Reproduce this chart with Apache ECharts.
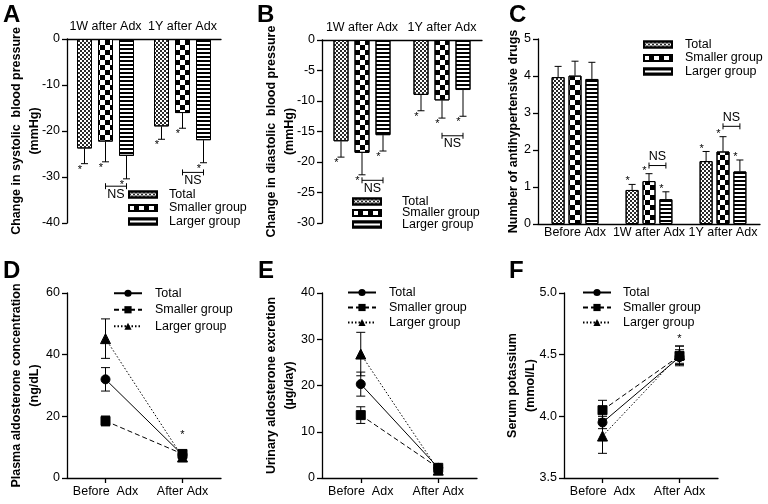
<!DOCTYPE html>
<html><head><meta charset="utf-8">
<script src="https://cdn.jsdelivr.net/npm/echarts/dist/echarts.min.js"></script>
<style>
html,body{margin:0;padding:0;background:#fff;width:768px;height:504px;overflow:hidden;}
.p{position:absolute;left:0;top:0;width:768px;height:504px;}
</style></head><body>
<div id="pA" class="p"></div><div id="pB" class="p"></div><div id="pC" class="p"></div>
<div id="pD" class="p"></div><div id="pE" class="p"></div><div id="pF" class="p"></div>
<script>
// ---------- data ----------
const groupNames = ['Total', 'Smaller group', 'Larger group'];
const catsAB = ['1W after Adx', '1Y after Adx'];
const catsC = ['Before Adx', '1W after Adx', '1Y after Adx'];
const catsDEF = ['Before  Adx', 'After Adx'];

// A: change in systolic BP (mmHg)
const sbpTotal = [-23.8, -19.0];     const sbpTotalErr = [3.3, 2.8];
const sbpSmaller = [-22.3, -16.1];   const sbpSmallerErr = [4.4, 3.3];
const sbpLarger = [-25.4, -22.0];    const sbpLargerErr = [5.0, 4.9];
const sbpStars = [1, 1];
const sbpNS = [[0, -32], [1, -29]];

// B: change in diastolic BP (mmHg)
const dbpTotal = [-16.6, -9.0];      const dbpTotalErr = [2.6, 2.6];
const dbpSmaller = [-18.5, -9.9];    const dbpSmallerErr = [3.6, 2.9];
const dbpLarger = [-15.6, -8.2];     const dbpLargerErr = [2.6, 4.3];
const dbpStars = [1, 1];
const dbpNS = [[0, -23], [1, -15.7]];

// C: number of antihypertensive drugs
const drugTotal = [3.97, 0.92, 1.70];    const drugTotalErr = [0.29, 0.15, 0.26];
const drugSmaller = [4.01, 1.16, 1.96];  const drugSmallerErr = [0.39, 0.20, 0.40];
const drugLarger = [3.92, 0.67, 1.42];   const drugLargerErr = [0.45, 0.20, 0.31];
const drugStars = [0, 1, 1];
const drugNS = [[1, 1.58], [2, 2.64]];

// D: plasma aldosterone concentration (ng/dL)
const pacTotal = [32.0, 7.5];    const pacTotalErr = [3.8, 1.2];
const pacSmaller = [18.5, 7.8];  const pacSmallerErr = [1.6, 1.2];
const pacLarger = [45.2, 6.8];   const pacLargerErr = [6.4, 1.2];
const pacStar = [[1, 14]];

// E: urinary aldosterone excretion (µg/day)
const uaeTotal = [20.3, 2.2];    const uaeTotalErr = [2.6, 0.5];
const uaeSmaller = [13.6, 2.2];  const uaeSmallerErr = [1.8, 0.5];
const uaeLarger = [26.8, 1.7];   const uaeLargerErr = [4.7, 0.5];

// F: serum potassium (mmol/L)
const kTotal = [3.95, 4.48];     const kTotalErr = [0.05, 0.06];
const kSmaller = [4.05, 4.49];   const kSmallerErr = [0.08, 0.08];
const kLarger = [3.84, 4.50];    const kLargerErr = [0.14, 0.07];
const kStar = [[1, 4.63]];

// ---------- styling helpers ----------
const FONT = 'Liberation Sans, Arial, Helvetica, sans-serif';
const BLACK = '#000';
const decals = [
  {symbol: 'rect', symbolSize: 1, dashArrayX: [[2, 2], [0, 2, 2, 0]], dashArrayY: [2, 0], color: '#2a2a2a'},
  {symbol: 'rect', symbolSize: 1, dashArrayX: [[4.5, 4.5], [0, 4.5, 4.5, 0]], dashArrayY: [4.5, 0], color: '#000'},
  {symbol: 'rect', symbolSize: 1, dashArrayX: [1, 0], dashArrayY: [2, 1.4], color: '#000'}
];

function title(letter, left, top) {
  return {text: letter, left: left, top: top, padding: 0,
    textStyle: {fontSize: 24, fontWeight: 'bold', fontFamily: FONT, color: BLACK}};
}

function yAxisCfg(min, max, interval, name, nameGap, fmt) {
  return {
    type: 'value', min: min, max: max, interval: interval,
    name: name, nameLocation: 'middle', nameGap: nameGap, nameRotate: 90, nameMoveOverlap: false,
    nameTextStyle: {fontSize: 12.5, fontWeight: 'bold', fontFamily: FONT, color: BLACK, lineHeight: 18},
    axisLine: {show: true, lineStyle: {color: BLACK, width: 1.3}},
    axisTick: {show: true, length: 5, inside: false, lineStyle: {color: BLACK, width: 1.3}},
    axisLabel: {fontSize: 12.5, fontFamily: FONT, color: BLACK, margin: 7, formatter: fmt},
    splitLine: {show: false}
  };
}

function barErrSeries(data, err, stars, idx, step, dir) {
  return {
    type: 'custom', name: '_err' + idx, silent: true, clip: false, z: 5,
    encode: {x: 0, y: 1},
    data: data.map((v, i) => [i, v, err[i], stars[i]]),
    renderItem: function (params, api) {
      const c = api.value(0), v = api.value(1), e = api.value(2), s = api.value(3);
      const p0 = api.coord([c, v]);
      const p1 = api.coord([c, v + dir * e]);
      const x = p0[0] + (idx - 1) * step;
      const ch = [
        {type: 'line', shape: {x1: x, y1: p0[1], x2: x, y2: p1[1]}, style: {stroke: BLACK, lineWidth: 1}},
        {type: 'line', shape: {x1: x - 3.5, y1: p1[1], x2: x + 3.5, y2: p1[1]}, style: {stroke: BLACK, lineWidth: 1}}
      ];
      if (s) {
        ch.push({type: 'text', style: {text: '*', x: x - 4.5, y: dir < 0 ? p1[1] + 6 : p1[1] - 3,
          align: 'center', verticalAlign: 'middle', fontSize: 11, fontFamily: FONT, fill: BLACK}});
      }
      return {type: 'group', children: ch};
    }
  };
}

function nsSeries(ns, step, above) {
  return {
    type: 'custom', name: '_ns', silent: true, clip: false, z: 5,
    encode: {x: 0, y: 1},
    data: ns,
    renderItem: function (params, api) {
      const p = api.coord([api.value(0), api.value(1)]);
      const x1 = p[0], x2 = p[0] + step, y = p[1];
      return {type: 'group', children: [
        {type: 'line', shape: {x1: x1, y1: y, x2: x2, y2: y}, style: {stroke: BLACK, lineWidth: 1}},
        {type: 'line', shape: {x1: x1, y1: y - 3, x2: x1, y2: y + 3}, style: {stroke: BLACK, lineWidth: 1}},
        {type: 'line', shape: {x1: x2, y1: y - 3, x2: x2, y2: y + 3}, style: {stroke: BLACK, lineWidth: 1}},
        {type: 'text', style: {text: 'NS', x: (x1 + x2) / 2, y: above ? y - 9 : y + 8,
          align: 'center', verticalAlign: 'middle', fontSize: 12.5, fontFamily: FONT, fill: BLACK}}
      ]};
    }
  };
}

function barPanel(el, cfg) {
  const chart = echarts.init(document.getElementById(el), null, {renderer: 'canvas', width: 768, height: 504});
  const step = cfg.barWidth * (1 + cfg.gapRatio);
  const series = [];
  cfg.values.forEach((vals, i) => {
    series.push({
      type: 'bar', name: groupNames[i], data: vals, barWidth: cfg.barWidth, barGap: (cfg.gapRatio * 100) + '%',
      silent: true, z: 2,
      itemStyle: {color: '#fff', borderColor: BLACK, borderWidth: 1, decal: decals[i]}
    });
  });
  cfg.values.forEach((vals, i) => series.push(barErrSeries(vals, cfg.errs[i], cfg.stars, i, step, cfg.dir)));
  series.push(nsSeries(cfg.ns, step, cfg.dir > 0));
  chart.setOption({
    animation: false,
    title: title(cfg.letter, cfg.letterPos[0], cfg.letterPos[1]),
    grid: Object.assign({containLabel: false, outerBoundsMode: 'none'}, cfg.grid),
    legend: Object.assign({
      orient: 'vertical', icon: 'rect', itemWidth: 28, itemHeight: 6, itemGap: cfg.legendGap, padding: 0,
      selectedMode: false, data: groupNames,
      textStyle: {fontSize: 12.5, fontFamily: FONT, color: BLACK, padding: [0, 0, 0, cfg.legendPad]}
    }, cfg.legendPos),
    xAxis: {
      type: 'category', data: cfg.cats, position: cfg.xPos,
      axisLine: {show: true, onZero: false, lineStyle: {color: BLACK, width: 1.3}},
      axisTick: {show: false},
      axisLabel: {fontSize: 12.5, fontFamily: FONT, color: BLACK, margin: cfg.xMargin, interval: 0}
    },
    yAxis: yAxisCfg(cfg.yMin, cfg.yMax, cfg.yInt, cfg.yName, cfg.nameGap, cfg.fmt),
    series: series
  });
}

function linePanel(el, cfg) {
  const chart = echarts.init(document.getElementById(el), null, {renderer: 'canvas', width: 768, height: 504});
  const symbols = ['circle', 'rect', 'triangle'];
  const types = ['solid', [5, 3], [1.5, 2]];
  const series = [];
  cfg.values.forEach((vals, i) => {
    series.push({
      type: 'line', name: groupNames[i], data: vals, symbol: symbols[i], symbolSize: i === 2 ? 10 : 9,
      silent: true, z: 3,
      itemStyle: {color: BLACK, borderColor: BLACK},
      lineStyle: {color: BLACK, width: 1, type: types[i]}
    });
  });
  cfg.values.forEach((vals, i) => {
    const err = cfg.errs[i];
    series.push({
      type: 'custom', name: '_err' + i, silent: true, clip: false, z: 4,
      encode: {x: 0, y: 1},
      data: vals.map((v, k) => [k, v, err[k]]),
      renderItem: function (params, api) {
        const c = api.value(0), v = api.value(1), e = api.value(2);
        const pt = api.coord([c, v + e]);
        const pb = api.coord([c, v - e]);
        const x = pt[0];
        return {type: 'group', children: [
          {type: 'line', shape: {x1: x, y1: pt[1], x2: x, y2: pb[1]}, style: {stroke: BLACK, lineWidth: 1}},
          {type: 'line', shape: {x1: x - 4.5, y1: pt[1], x2: x + 4.5, y2: pt[1]}, style: {stroke: BLACK, lineWidth: 1}},
          {type: 'line', shape: {x1: x - 4.5, y1: pb[1], x2: x + 4.5, y2: pb[1]}, style: {stroke: BLACK, lineWidth: 1}}
        ]};
      }
    });
  });
  if (cfg.star) {
    series.push({
      type: 'custom', name: '_star', silent: true, clip: false, z: 4,
      encode: {x: 0, y: 1}, data: cfg.star,
      renderItem: function (params, api) {
        const p = api.coord([api.value(0), api.value(1)]);
        return {type: 'text', style: {text: '*', x: p[0], y: p[1], align: 'center', verticalAlign: 'middle',
          fontSize: 11, fontFamily: FONT, fill: BLACK}};
      }
    });
  }
  chart.setOption({
    animation: false,
    title: title(cfg.letter, cfg.letterPos[0], cfg.letterPos[1]),
    grid: Object.assign({containLabel: false, outerBoundsMode: 'none'}, cfg.grid),
    legend: Object.assign({
      orient: 'vertical', itemWidth: 28, itemHeight: 9, itemGap: 0, padding: 0,
      selectedMode: false, data: groupNames,
      textStyle: {fontSize: 12.5, fontFamily: FONT, color: BLACK, lineHeight: cfg.legendLH, padding: [0, 0, 0, cfg.legendPad]}
    }, cfg.legendPos),
    xAxis: {
      type: 'category', data: catsDEF,
      axisLine: {show: true, onZero: false, lineStyle: {color: BLACK, width: 1.3}},
      axisTick: {show: true, alignWithLabel: true, length: 5, lineStyle: {color: BLACK, width: 1.3}},
      axisLabel: {fontSize: 12.5, fontFamily: FONT, color: BLACK, margin: 7, interval: 0}
    },
    yAxis: yAxisCfg(cfg.yMin, cfg.yMax, cfg.yInt, cfg.yName, cfg.nameGap, cfg.fmt),
    series: series
  });
}

barPanel('pA', {
  letter: 'A', letterPos: [3, 3], cats: catsAB, xPos: 'top', xMargin: 6, dir: -1,
  grid: {left: 67, top: 39, width: 154, height: 184},
  values: [sbpTotal, sbpSmaller, sbpLarger], errs: [sbpTotalErr, sbpSmallerErr, sbpLargerErr],
  stars: sbpStars, ns: sbpNS, barWidth: 15, gapRatio: 0.4,
  yMin: -40, yMax: 0, yInt: 10, yName: 'Change in systolic  blood pressure\n(mmHg)', nameGap: 23,
  legendPos: {left: 128, top: 188}, legendGap: 0.5, legendPad: 7
});
barPanel('pB', {
  letter: 'B', letterPos: [257, 3], cats: catsAB, xPos: 'top', xMargin: 6, dir: -1,
  grid: {left: 322, top: 40, width: 160, height: 183},
  values: [dbpTotal, dbpSmaller, dbpLarger], errs: [dbpTotalErr, dbpSmallerErr, dbpLargerErr],
  stars: dbpStars, ns: dbpNS, barWidth: 15, gapRatio: 0.4,
  yMin: -30, yMax: 0, yInt: 5, yName: 'Change in diastolic  blood pressure\n(mmHg)', nameGap: 23,
  legendPos: {left: 352, top: 195}, legendGap: -1.5, legendPad: 16
});
barPanel('pC', {
  letter: 'C', letterPos: [509, 3], cats: catsC, xPos: 'bottom', xMargin: 2, dir: 1,
  grid: {left: 538, top: 39, width: 222, height: 185},
  values: [drugTotal, drugSmaller, drugLarger], errs: [drugTotalErr, drugSmallerErr, drugLargerErr],
  stars: drugStars, ns: drugNS, barWidth: 13, gapRatio: 0.3,
  yMin: 0, yMax: 5, yInt: 1, yName: 'Number of antihypertensive drugs', nameGap: 15,
  legendPos: {left: 643, top: 38}, legendGap: 0.5, legendPad: 8
});
linePanel('pD', {
  letter: 'D', letterPos: [3, 259], grid: {left: 67, top: 293, width: 154, height: 185},
  values: [pacTotal, pacSmaller, pacLarger], errs: [pacTotalErr, pacSmallerErr, pacLargerErr], star: pacStar,
  yMin: 0, yMax: 60, yInt: 20, yName: 'Plasma aldosterone concentration\n(ng/dL)', nameGap: 23,
  legendPos: {left: 113, top: 285}, legendLH: 16.5, legendPad: 8
});
linePanel('pE', {
  letter: 'E', letterPos: [258, 259], grid: {left: 322, top: 293, width: 155, height: 185},
  values: [uaeTotal, uaeSmaller, uaeLarger], errs: [uaeTotalErr, uaeSmallerErr, uaeLargerErr], star: null,
  yMin: 0, yMax: 40, yInt: 10, yName: 'Urinary aldosterone excretion\n(\u00b5g/day)', nameGap: 23,
  legendPos: {left: 347, top: 285}, legendLH: 15, legendPad: 8
});
linePanel('pF', {
  letter: 'F', letterPos: [509, 259], grid: {left: 564, top: 293, width: 154, height: 185},
  values: [kTotal, kSmaller, kLarger], errs: [kTotalErr, kSmallerErr, kLargerErr], star: kStar,
  yMin: 3.5, yMax: 5.0, yInt: 0.5, yName: 'Serum potassium\n(mmol/L)', nameGap: 24,
  fmt: function (v) { return v.toFixed(1); },
  legendPos: {left: 582, top: 285}, legendLH: 15, legendPad: 7
});
</script>
</body></html>
